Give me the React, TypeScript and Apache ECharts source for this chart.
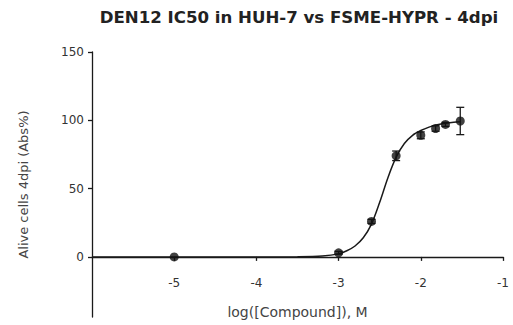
import React, { useEffect, useRef } from "react";
import * as echarts from "echarts";

const titleText = "DEN12 IC50 in HUH-7 vs FSME-HYPR - 4dpi";
const xAxisName = "log([Compound]), M";
const yAxisName = "Alive cells 4dpi (Abs%)";

const logConc = [-5, -3, -2.6, -2.3, -2, -1.82, -1.7, -1.52];
const alive = [0, 3, 26, 74, 89, 94, 97, 99.5];
const errs = [0, 1, 1.5, 3.5, 2.5, 2, 1.5, 10];

const curveX = [-6, -5, -4, -3.5, -3.2, -3.0, -2.9, -2.8, -2.7, -2.6, -2.5, -2.4, -2.3, -2.2, -2.1, -2.0, -1.9, -1.8, -1.7, -1.6, -1.52];
const curveY = [0, 0, 0, 0.1, 0.6, 2.2, 4.5, 8, 14, 24, 40, 58, 73, 83, 89, 92.5, 95, 96.7, 97.8, 98.5, 99];

const xTicks = [-5, -4, -3, -2, -1];
const yTicks = [0, 50, 100, 150];

export default function App() {
  const ref = useRef<HTMLDivElement>(null);
  useEffect(() => {
    if (!ref.current) return;
    const chart = echarts.init(ref.current, null, { renderer: "svg" });
    const ink = "#1a1a1a";
    const font = "DejaVu Sans, Verdana, sans-serif";
    chart.setOption({
      animation: false,
      title: {
        text: titleText,
        left: 294,
        top: 4,
        textAlign: "center",
        textStyle: { fontFamily: font, fontSize: 16.6, fontWeight: "bold", color: "#222" },
      },
      grid: { left: 92, right: 10, top: 52, bottom: 8, outerBoundsMode: "none", containLabel: false },
      xAxis: {
        type: "value",
        min: -6,
        max: -1,
        name: xAxisName,
        nameLocation: "middle",
        nameGap: -12,
        nameTextStyle: { fontFamily: font, fontSize: 14, color: "#444", verticalAlign: "top" },
        axisLine: { onZero: true, lineStyle: { color: ink, width: 1.3 } },
        axisTick: { show: true, length: 4, customValues: xTicks, lineStyle: { color: ink, width: 1.3 } },
        axisLabel: { customValues: xTicks, margin: -40, fontFamily: font, fontSize: 12, color: "#333", verticalAlign: "top" },
        splitLine: { show: false },
      },
      yAxis: {
        type: "value",
        min: -44,
        max: 150,
        name: yAxisName,
        nameLocation: "middle",
        nameGap: 62,
        nameTextStyle: { fontFamily: font, fontSize: 13, color: "#444" },
        axisLine: { show: true, onZero: false, lineStyle: { color: ink, width: 1.3 } },
        axisTick: { show: true, length: 4, customValues: yTicks, lineStyle: { color: ink, width: 1.3 } },
        axisLabel: { customValues: yTicks, margin: 8, fontFamily: font, fontSize: 12, color: "#333" },
        splitLine: { show: false },
      },
      series: [
        {
          type: "line",
          data: curveX.map((x, i) => [x, curveY[i]]),
          smooth: 0.3,
          showSymbol: false,
          symbol: "none",
          lineStyle: { color: ink, width: 1.5 },
          z: 2,
        },
        {
          type: "custom",
          data: logConc.map((x, i) => [x, alive[i], errs[i]]),
          renderItem: (params: any, api: any) => {
            const x = api.value(0);
            const y = api.value(1);
            const e = api.value(2);
            if (!e) return { type: "group", children: [] };
            const top = api.coord([x, y + e]);
            const bot = api.coord([x, y - e]);
            const w = 4;
            const style = { stroke: ink, lineWidth: 1.3 };
            return {
              type: "group",
              children: [
                { type: "line", shape: { x1: top[0], y1: top[1], x2: bot[0], y2: bot[1] }, style },
                { type: "line", shape: { x1: top[0] - w, y1: top[1], x2: top[0] + w, y2: top[1] }, style },
                { type: "line", shape: { x1: bot[0] - w, y1: bot[1], x2: bot[0] + w, y2: bot[1] }, style },
              ],
            };
          },
          z: 3,
        },
        {
          type: "scatter",
          data: logConc.map((x, i) => [x, alive[i]]),
          symbol: "circle",
          symbolSize: 9,
          itemStyle: { color: "#111" },
          z: 4,
        },
      ],
    });
    return () => chart.dispose();
  }, []);
  return <div ref={ref} style={{ position: "absolute", left: 0, top: 0, width: 513, height: 325 }} />;
}
